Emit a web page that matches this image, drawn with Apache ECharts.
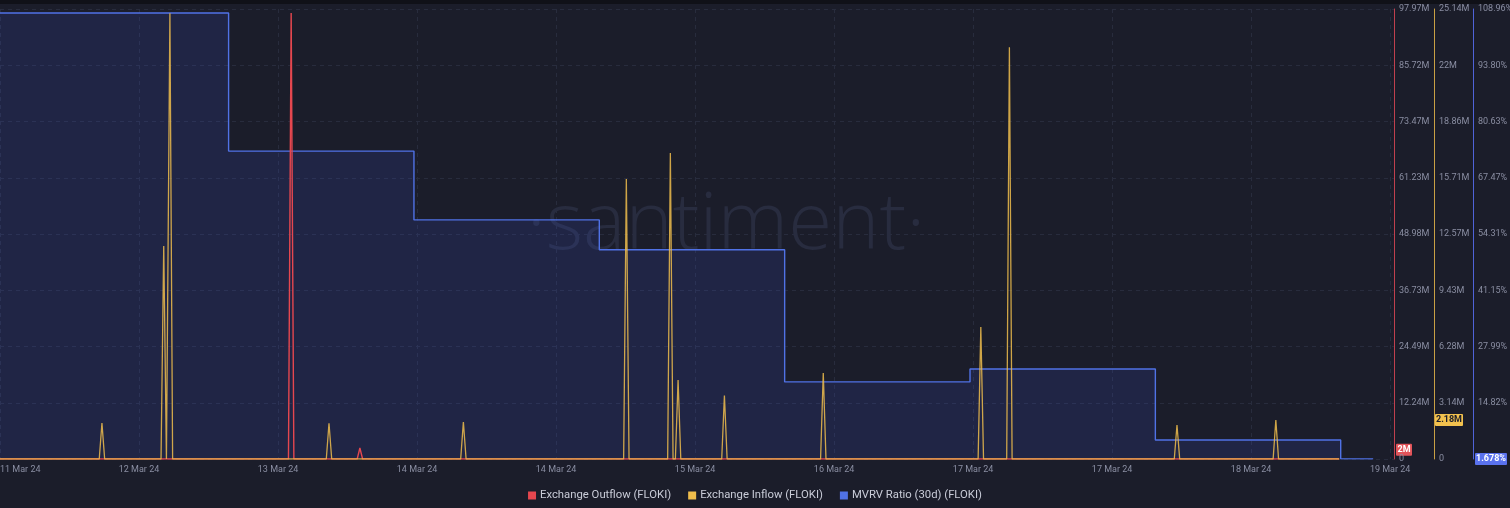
<!DOCTYPE html>
<html><head><meta charset="utf-8">
<script src="https://cdn.jsdelivr.net/npm/echarts@6/dist/echarts.min.js"></script>
<style>html,body{margin:0;padding:0;background:#1b1d2a;overflow:hidden}#c{width:1510px;height:508px;}</style>
</head><body><div id="c"></div>
<script>
// x values: hours since 11 Mar 2024 18:24
const xTickLabels = ['11 Mar 24','12 Mar 24','13 Mar 24','14 Mar 24','14 Mar 24','15 Mar 24','16 Mar 24','17 Mar 24','17 Mar 24','18 Mar 24','19 Mar 24'];
const outflowTickLabels = ['0','12.24M','24.49M','36.73M','48.98M','61.23M','73.47M','85.72M','97.97M'];
const inflowTickLabels = ['0','3.14M','6.28M','9.43M','12.57M','15.71M','18.86M','22M','25.14M'];
const mvrvTickLabels = ['','14.82%','27.99%','41.15%','54.31%','67.47%','80.63%','93.80%','108.96%'];

// Exchange Inflow spikes (millions FLOKI)
const inflowHours  = [13.2, 21.2, 22.0, 42.6, 60.0, 81.1, 86.8, 87.8, 93.8, 106.6, 127.0, 130.7, 152.4, 165.2];
const inflowValues = [2.01, 11.9, 24.9, 2.0, 2.07, 15.64, 17.1, 4.41, 3.55, 4.8, 7.37, 23.0, 1.9, 2.18];
// Exchange Outflow spikes (millions FLOKI)
const outflowHours  = [37.7, 46.6];
const outflowValues = [97.1, 2.4];
// MVRV ratio (30d), percent
const mvrvHours  = [0, 29.6, 53.6, 77.6, 101.6, 125.6, 149.6, 173.6, 177.8];
const mvrvValues = [106.0, 73.7, 57.6, 50.6, 19.7, 22.7, 6.1, 1.678, 1.678];
const flowEndHour = 173.4;
// latest-value badges
const badgeOutflow = 2, badgeInflow = 2.18, badgeMvrv = 1.678;
const badgeLabels = ['2M', '2.18M', '1.678%'];

const X_MIN = 0, X_MAX = 180.5, X_INT = 18;
const OUT_MAX = 97.97, IN_MAX = 25.14, MV_MIN = 1.66, MV_INT = 13.16;

function spikeData(hours, values, end) {
  const d = [[0, 0]];
  hours.forEach((h, i) => { d.push([h - 0.35, 0], [h, values[i]], [h + 0.35, 0]); });
  d.push([end, 0]);
  return d;
}
function idxFmt(labels, min, interval) {
  return function (v) {
    const k = (v - min) / interval;
    const r = Math.round(k);
    if (Math.abs(k - r) > 0.02) return '';
    return labels[r] !== undefined ? labels[r] : '';
  };
}

const labelColor = '#8a8ea2';
const gridColor = '#282c3d';
const RED = '#e5474f', YEL = '#efbd4c', BLUE = '#5072e6';

const chart = echarts.init(document.getElementById('c'), null, { renderer: 'canvas' });
const yBase = {
  type: 'value', position: 'right',
  axisTick: { show: false },
  splitLine: { show: false },
  axisLabel: { color: labelColor, fontSize: 9, margin: 5, fontFamily: 'Roboto' }
};
chart.setOption({
  backgroundColor: '#1b1d2a',
  animation: false,
  grid: { left: 0, right: 116, top: 9, bottom: 49, containLabel: false, outerBoundsMode: 'none' },
  legend: {
    bottom: 2, left: 'center', icon: 'rect', itemWidth: 8, itemHeight: 8, itemGap: 17,
    textStyle: { color: '#c9ccd8', fontSize: 11.3, fontFamily: 'Roboto', padding: [0, 0, 0, -1] },
    data: ['Exchange Outflow (FLOKI)', 'Exchange Inflow (FLOKI)', 'MVRV Ratio (30d) (FLOKI)']
  },
  xAxis: {
    type: 'value', min: X_MIN, max: X_MAX, interval: X_INT,
    axisLine: { show: false, onZero: false }, axisTick: { show: false },
    splitLine: { show: true, lineStyle: { color: gridColor, type: [4, 4], width: 1 } },
    axisLabel: { color: labelColor, fontSize: 9, margin: 6, fontFamily: 'Roboto',
      formatter: idxFmt(xTickLabels, X_MIN, X_INT), alignMinLabel: 'left', showMaxLabel: true }
  },
  yAxis: [
    Object.assign({}, yBase, {
      min: 0, max: OUT_MAX, interval: OUT_MAX / 8, offset: 0,
      axisLine: { show: true, onZero: false, lineStyle: { color: '#c0404e', width: 1 } },
      splitLine: { show: true, lineStyle: { color: gridColor, type: [4, 4], width: 1 } },
      axisLabel: Object.assign({}, yBase.axisLabel, { formatter: idxFmt(outflowTickLabels, 0, OUT_MAX / 8) })
    }),
    Object.assign({}, yBase, {
      min: 0, max: IN_MAX, interval: IN_MAX / 8, offset: 40,
      axisLine: { show: true, onZero: false, lineStyle: { color: '#c9a044', width: 1 } },
      axisLabel: Object.assign({}, yBase.axisLabel, { formatter: idxFmt(inflowTickLabels, 0, IN_MAX / 8) })
    }),
    Object.assign({}, yBase, {
      min: MV_MIN, max: MV_MIN + 8 * MV_INT, interval: MV_INT, offset: 79,
      axisLine: { show: true, onZero: false, lineStyle: { color: '#4f63d8', width: 1 } },
      axisLabel: Object.assign({}, yBase.axisLabel, { formatter: idxFmt(mvrvTickLabels, MV_MIN, MV_INT) })
    })
  ],
  series: [
    {
      name: 'MVRV Ratio (30d) (FLOKI)', type: 'line', yAxisIndex: 2, step: 'end',
      showSymbol: false, z: 1,
      data: mvrvHours.map((h, i) => [h, mvrvValues[i]]),
      lineStyle: { color: BLUE, width: 1.4 }, itemStyle: { color: BLUE },
      areaStyle: { color: 'rgba(62,92,235,0.2)', origin: 'start' }
    },
    {
      name: 'Exchange Outflow (FLOKI)', type: 'line', yAxisIndex: 0,
      showSymbol: false, z: 2,
      data: spikeData(outflowHours, outflowValues, flowEndHour),
      lineStyle: { color: RED, width: 1.4 }, itemStyle: { color: RED }
    },
    {
      name: 'Exchange Inflow (FLOKI)', type: 'line', yAxisIndex: 1,
      showSymbol: false, z: 3,
      data: spikeData(inflowHours, inflowValues, flowEndHour),
      lineStyle: { color: YEL, width: 1.3, opacity: 0.85 }, itemStyle: { color: YEL }
    }
  ]
});

function badge(id, x, y, w, text, bg, fg) {
  return {
    id: id, type: 'group', x: x, y: y - 6, z: 10,
    children: [
      { type: 'rect', shape: { x: 0, y: 0, width: w, height: 12, r: 1 }, style: { fill: bg } },
      { type: 'text', x: w / 2, y: 6, style: { text: text, fill: fg, fontSize: 9, fontFamily: 'Roboto', fontWeight: 'bold', align: 'center', verticalAlign: 'middle' } }
    ]
  };
}
const yO = chart.convertToPixel({ yAxisIndex: 0 }, badgeOutflow);
const yI = chart.convertToPixel({ yAxisIndex: 1 }, badgeInflow);
const yM = chart.convertToPixel({ yAxisIndex: 2 }, badgeMvrv);
chart.setOption({
  graphic: [
    { id: 'topband', type: 'rect', shape: { x: 0, y: 0, width: 1510, height: 4 }, style: { fill: '#101118' }, z: 0 },
    { id: 'wm', type: 'text', x: 726, y: 226, z: 0, silent: true,
      style: { text: '·santiment·', fill: '#282c3f', fontSize: 80, fontWeight: 300, fontFamily: 'Open Sans', align: 'center', verticalAlign: 'middle' } },
    badge('b1', 1396, yO, 16, badgeLabels[0], '#e2545a', '#ffffff'),
    badge('b2', 1435, yI, 28, badgeLabels[1], '#f3c24e', '#1b1d2a'),
    badge('b3', 1475, yM, 32, badgeLabels[2], '#5a72ee', '#ffffff')
  ]
});
</script>
</body></html>
